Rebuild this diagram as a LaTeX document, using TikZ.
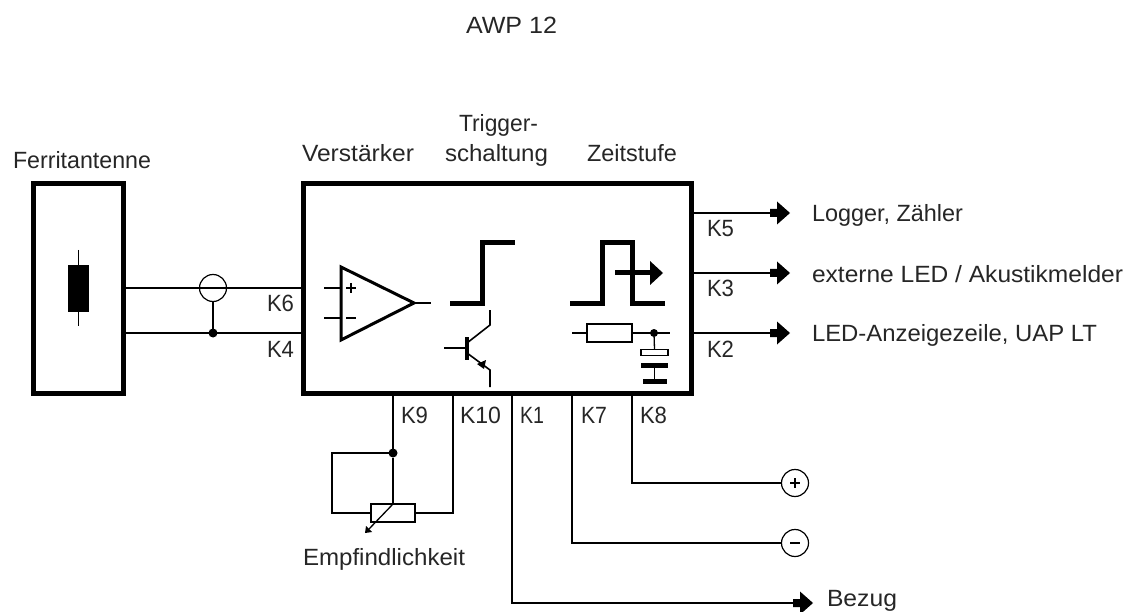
\documentclass[tikz,border=0pt]{standalone}
\usepackage{fontspec}
\usepackage{graphicx}
\setmainfont{Liberation Sans}
\usetikzlibrary{calc}
\newcommand{\fitw}[2]{\resizebox{#1pt}{\height}{#2}}
\tikzset{
  thick box/.style={draw=black,line width=5pt,fill=none,inner sep=0pt,outer sep=0pt},
  wire/.style={draw=black,line width=1.3pt},
  sym/.style={draw=black,line width=5pt},
  lbl/.style={anchor=base west,inner sep=0pt,outer sep=0pt,text=black!85,font=\fontsize{23.5}{26}\selectfont},
  dot/.style={circle,fill=black,draw=none,minimum size=9pt,inner sep=0pt,outer sep=0pt},
  term/.style={circle,draw=black,line width=1.2pt,fill=white,minimum size=27pt,inner sep=0pt,outer sep=0pt},
}
\newcommand{\bigarrow}[2]{% tip at (#1,#2)
  \fill[black] (#1-20,#2-4) -- (#1-13,#2-4) -- (#1-13,#2-11.5) -- (#1,#2) -- (#1-13,#2+11.5) -- (#1-13,#2+4) -- (#1-20,#2+4) -- cycle;}
\begin{document}
\begin{tikzpicture}[x=1pt,y=-1pt]
\useasboundingbox (0,0) rectangle (1132,612);
% main blocks
\node[thick box,minimum width=90pt,minimum height=210pt] (ant) at (78.5,288.5) {};
\node[thick box,minimum width=388pt,minimum height=210pt] (main) at (497.5,288.5) {};
% ferrite rod
\node[fill=black,draw=none,minimum width=21pt,minimum height=47pt,inner sep=0pt,outer sep=0pt] (rod) at (78.5,288.5) {};
\coordinate (rodT) at (78.5,250);
\coordinate (rodB) at (78.5,326);
\draw[wire] (rodT) -- (rod.north);
\draw[wire] (rod.south) -- (rodB);
% antenna lines
\coordinate (y6) at (213,288);
\coordinate (y4) at (213,333);
\draw[wire] (ant.east |- y6) -- (main.west |- y6);
\draw[wire] (ant.east |- y4) -- (main.west |- y4);
\node[circle,draw=black,line width=1.2pt,minimum size=27pt,inner sep=0pt,outer sep=0pt] (shield) at (y6) {};
\node[dot] (j4) at (y4) {};
\draw[wire] (shield.south) -- (j4);
% op amp
\coordinate (oa1) at (341,267); \coordinate (oa2) at (341,340); \coordinate (oaT) at (414,303);
\draw[black,line width=3pt,line join=miter] (oa1) -- (oaT) -- (oa2) -- cycle;
\coordinate (inP) at (324,288); \coordinate (inN) at (324,318); \coordinate (oaO) at (431,303);
\draw[wire] (inP) -- (inP -| oa1);
\draw[wire] (inN) -- (inN -| oa1);
\draw[wire] (oaT) -- (oaO);
\draw[wire] (346,288) -- (356,288) (351,283) -- (351,293);
\draw[wire] (346,318) -- (356,318);
% step
\draw[sym,line join=miter] (450,303) -- (482,303) -- (482,243) -- (515,243);
% pulse
\draw[sym,line join=miter] (570,303) -- (602,303) -- (602,243) -- (632,243) -- (632,303) -- (665,303);
\draw[sym] (615,273) -- (652,273);
\fill[black] (650,261) -- (663,273) -- (650,285) -- cycle;
% transistor
\draw[wire] (444,348) -- (467,348);
\draw[black,line width=4pt] (467,337) -- (467,360);
\draw[black,line width=1.6pt] (467,343) -- (490,325) -- (490,310);
\draw[black,line width=1.6pt] (467,353) -- (490,370) -- (490,387);
\fill[black] (477,364) -- (486,360) -- (484,369) -- cycle;
% RC
\node[draw=black,line width=2.2pt,minimum width=45pt,minimum height=18pt,inner sep=0pt,outer sep=0pt] (rt) at (609.5,333) {};
\coordinate (rtL) at (572,333); \coordinate (rtR) at (670,333);
\draw[wire] (rtL) -- (rt.west);
\draw[wire] (rt.east) -- (rtR);
\node[dot,minimum size=8pt] (jc) at (654,333) {};
\node[draw=black,line width=1.3pt,minimum width=27pt,minimum height=6pt,inner sep=0pt,outer sep=0pt] (c1) at (654.5,352.5) {};
\node[fill=black,minimum width=27pt,minimum height=5pt,inner sep=0pt,outer sep=0pt] (c2) at (654.5,365.5) {};
\node[fill=black,minimum width=24pt,minimum height=5pt,inner sep=0pt,outer sep=0pt] (c3) at (654.5,381.5) {};
\draw[wire] (jc) -- (c1.north);
\draw[wire] (c2.south) -- (c3.north);
% outputs
\coordinate (o5) at (777,213); \coordinate (o3) at (777,273); \coordinate (o2) at (777,333);
\draw[wire] (main.east |- o5) -- (o5);
\draw[wire] (main.east |- o3) -- (o3);
\draw[wire] (main.east |- o2) -- (o2);
\bigarrow{790}{213}
\bigarrow{790}{273}
\bigarrow{790}{333}
% bottom wires
\node[draw=black,line width=2.6pt,minimum width=44pt,minimum height=18pt,inner sep=0pt,outer sep=0pt] (pot) at (393,513) {};
\node[dot] (j9) at (393,453) {};
\coordinate (k9t) at (393,393.5);
\coordinate (k10t) at (453,393.5);
\coordinate (k1t) at (512,393.5);
\coordinate (k7t) at (572,393.5);
\coordinate (k8t) at (632,393.5);
\coordinate (loopA) at (332,453);
\coordinate (loopB) at (332,513);
\coordinate (potR) at (453,513);
\draw[wire] (k9t) -- (j9);
\draw[wire] (j9) -- (pot.north);
\draw[wire] (j9) -- (loopA) -- (loopB) -- (pot.west);
\draw[wire] (pot.east) -- (potR) -- (k10t);
\draw[wire] (pot.north) -- (369,529);
\fill[black] (365,533) -- (366,526) -- (372,532) -- cycle;
\node[term] (plus) at (795,483) {};
\node[term] (minus) at (795,543) {};
\draw[wire] (k8t) -- (k8t |- plus) -- (plus.west);
\draw[wire] (k7t) -- (k7t |- minus) -- (minus.west);
\draw[wire] (790,483) -- (800,483) (795,478) -- (795,488);
\draw[wire] (790,543) -- (800,543);
\coordinate (bz) at (800,603);
\draw[wire] (k1t) -- (k1t |- bz) -- (bz);
\bigarrow{813}{603}
% labels
\node[lbl] (t0) at (466,34) {\fitw{91}{AWP 12}};
\node[lbl] (tf) at (13,169) {\fitw{138}{Ferritantenne}};
\node[lbl] (tv) at (302,161.5) {\fitw{112}{Verstärker}};
\node[lbl] (tt1) at (459,132) {\fitw{79}{Trigger-}};
\node[lbl] (tt2) at (445,161.5) {\fitw{103}{schaltung}};
\node[lbl] (tz) at (587,161.5) {\fitw{90}{Zeitstufe}};
\node[lbl] (tl) at (812,222) {\fitw{151}{Logger, Zähler}};
\node[lbl] (te) at (812,282) {\fitw{311}{externe LED / Akustikmelder}};
\node[lbl] (ta) at (812,341) {\fitw{285}{LED-Anzeigezeile, UAP LT}};
\node[lbl] (tb) at (827,606) {\fitw{70}{Bezug}};
\node[lbl] (tk) at (303,565) {\fitw{162}{Empfindlichkeit}};
\node[lbl] (k6) at (267,312) {\fitw{27}{K6}};
\node[lbl] (k4) at (267,357) {\fitw{27}{K4}};
\node[lbl] (k5) at (707,237) {\fitw{27}{K5}};
\node[lbl] (k3) at (707,297) {\fitw{27}{K3}};
\node[lbl] (k2) at (707,357) {\fitw{27}{K2}};
\node[lbl] (k9) at (401,423) {\fitw{27}{K9}};
\node[lbl] (k10) at (460,423) {\fitw{41}{K10}};
\node[lbl] (k1) at (520,423) {\fitw{24}{K1}};
\node[lbl] (k7) at (581,423) {\fitw{26}{K7}};
\node[lbl] (k8) at (640,423) {\fitw{27}{K8}};
\end{tikzpicture}
\end{document}
